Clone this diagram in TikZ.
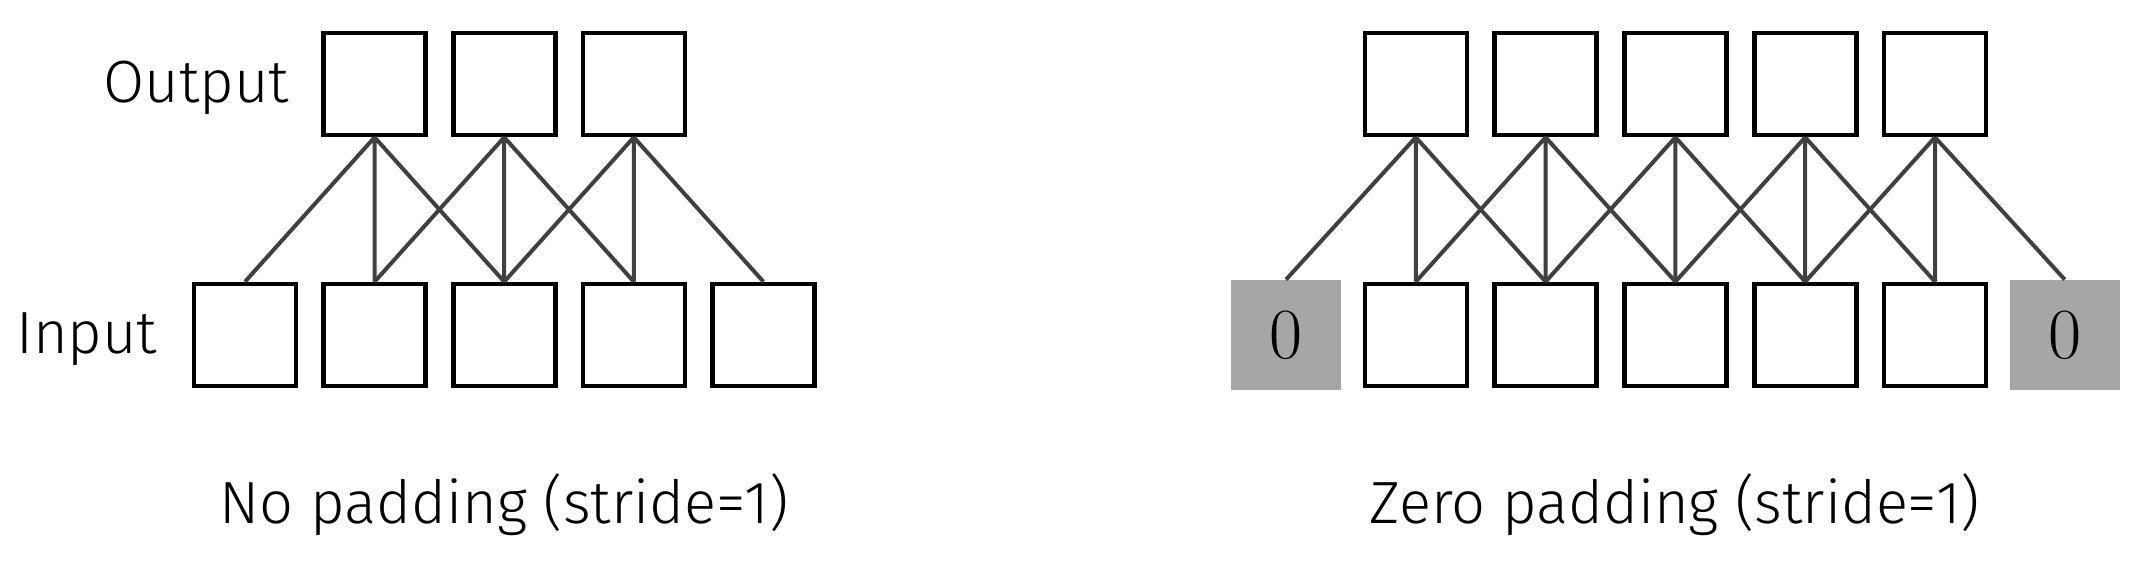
\documentclass[tikz,border=0pt]{standalone}
\usepackage{fontspec}
\setmainfont{Fira Sans Light}
\newfontfamily\zerofont{Latin Modern Roman}
\usepackage{xcolor}
\usetikzlibrary{positioning}
\definecolor{linkgray}{HTML}{404040}
\definecolor{padgray}{HTML}{A6A6A6}
\tikzset{
  cell/.style={draw=black,line width=2.3pt,fill=white,minimum size=51pt,inner sep=0pt},
  padcell/.style={fill=padgray,minimum size=55pt,inner sep=0pt,font=\zerofont\fontsize{36}{36}\selectfont},
  link/.style={draw=linkgray,line width=2pt},
  lbl/.style={inner sep=0pt,font=\fontsize{29.8}{35}\selectfont}
}
\begin{document}
\begin{tikzpicture}[x=0.5pt,y=-0.5pt]
\useasboundingbox (0,0) rectangle (2131,563);
%% no padding
\foreach \i in {1,...,5}
  \node[cell] (ni\i) at ({245+129.6*(\i-1)},335) {};
\foreach \j in {1,...,3}
  \node[cell] (no\j) at ({245+129.6*\j},84) {};
\foreach \j/\a/\b/\c in {1/1/2/3,2/2/3/4,3/3/4/5}
  \draw[link] (no\j.south) -- (ni\a.north)
              (no\j.south) -- (ni\b.north)
              (no\j.south) -- (ni\c.north);
\node[lbl,left=16pt of no1,yshift=-2pt] (outlbl) {Output};
\node[lbl,left=17pt of ni1,yshift=-2pt] (inlbl) {Input};
\node[lbl] (capno) at (504,505) {No padding (stride=1)};
%% zero padding
\node[padcell] (zi0) at (1286,335) {0};
\foreach \k in {1,...,5}
  \node[cell] (zi\k) at ({1286+129.8*\k},335) {};
\node[padcell] (zi6) at ({1286+129.8*6},335) {0};
\foreach \k in {1,...,5}
  \node[cell] (zo\k) at ({1286+129.8*\k},84) {};
\foreach \k [evaluate=\k as \p using int(\k-1),evaluate=\k as \n using int(\k+1)] in {1,...,5}
  \draw[link] (zo\k.south) -- (zi\p.north)
              (zo\k.south) -- (zi\k.north)
              (zo\k.south) -- (zi\n.north);
\node[lbl] (capzero) at (1675,505) {Zero padding (stride=1)};
\end{tikzpicture}
\end{document}
